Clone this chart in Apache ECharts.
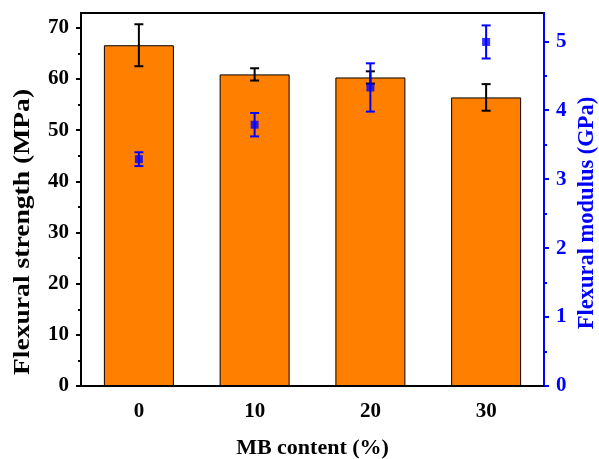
<!DOCTYPE html>
<html>
<head>
<meta charset="utf-8">
<script src="https://cdn.jsdelivr.net/npm/echarts@6/dist/echarts.min.js"></script>
<style>
  html, body { margin: 0; padding: 0; background: #fff; }
  #chart { width: 599px; height: 459px; }
</style>
</head>
<body>
<div id="chart"></div>
<script>
// MB content levels (%)
const categories = ['0', '10', '20', '30'];
// Flexural strength (MPa): mean and standard deviation
const strength = [66.6, 60.9, 60.3, 56.4];
const strengthErr = [4.1, 1.2, 1.2, 2.6];
// Flexural modulus (GPa): mean and standard deviation
const modulus = [3.29, 3.79, 4.33, 4.99];
const modulusErr = [0.10, 0.17, 0.35, 0.24];
// Axis tick values
const strengthTicks = [0, 10, 20, 30, 40, 50, 60, 70];
const modulusTicks = [0, 1, 2, 3, 4, 5];
const strengthMax = 72.9;
const modulusMax = 5.41;

const strengthMinor = strengthTicks.slice(0, -1).map((v, i) => (v + strengthTicks[i + 1]) / 2);
const modulusMinor = modulusTicks.slice(0, -1).map((v, i) => (v + modulusTicks[i + 1]) / 2);

const FONT = '"Liberation Serif", "Times New Roman", serif';
const BLUE = '#0000FF';

function errorBar(color, capHalf, lineW) {
  return function (params, api) {
    const x = api.value(0);
    const lo = api.coord([x, api.value(1)]);
    const hi = api.coord([x, api.value(2)]);
    const cx = lo[0];
    const style = { stroke: color, lineWidth: lineW };
    return {
      type: 'group',
      children: [
        { type: 'line', shape: { x1: cx, y1: hi[1], x2: cx, y2: lo[1] }, style },
        { type: 'line', shape: { x1: cx - capHalf, y1: hi[1], x2: cx + capHalf, y2: hi[1] }, style },
        { type: 'line', shape: { x1: cx - capHalf, y1: lo[1], x2: cx + capHalf, y2: lo[1] }, style }
      ]
    };
  };
}

const chart = echarts.init(document.getElementById('chart'), null, { renderer: 'canvas' });

chart.setOption({
  animation: false,
  backgroundColor: '#fff',
  grid: {
    left: 81, right: 55, top: 13, bottom: 73,
    outerBoundsMode: 'none',
    containLabel: false,
    show: true, borderColor: '#000', borderWidth: 2, backgroundColor: 'transparent'
  },
  xAxis: [
    {
      type: 'category',
      data: categories,
      boundaryGap: true,
      position: 'bottom',
      axisLine: { lineStyle: { color: '#000', width: 2 } },
      axisTick: { alignWithLabel: true, length: 5, lineStyle: { color: '#000', width: 2 } },
      axisLabel: { color: '#000', fontFamily: FONT, fontWeight: 'bold', fontSize: 21, margin: 15 },
      splitLine: { show: false },
      name: 'MB content (%)',
      nameLocation: 'middle',
      nameGap: 51,
      nameTextStyle: { color: '#000', fontFamily: FONT, fontWeight: 'bold', fontSize: 22 }
    },
    {
      type: 'category',
      data: categories,
      boundaryGap: true,
      position: 'bottom',
      axisLine: { show: false },
      axisTick: { length: 3, lineStyle: { color: '#000', width: 2 } },
      axisLabel: { show: false },
      splitLine: { show: false }
    }
  ],
  yAxis: [
    {
      type: 'value',
      position: 'left',
      min: 0, max: strengthMax,
      axisLine: { show: true, lineStyle: { color: '#000', width: 2 } },
      axisTick: { show: true, length: 5, customValues: strengthTicks, lineStyle: { color: '#000', width: 2 } },
      axisLabel: { customValues: strengthTicks, color: '#000', fontFamily: FONT, fontWeight: 'bold', fontSize: 21, margin: 12 },
      splitLine: { show: false }
    },
    {
      type: 'value',
      position: 'right',
      min: 0, max: modulusMax,
      axisLine: { show: true, lineStyle: { color: BLUE, width: 2 } },
      axisTick: { show: true, length: 5, customValues: modulusTicks, lineStyle: { color: BLUE, width: 2 } },
      axisLabel: { customValues: modulusTicks, color: BLUE, fontFamily: FONT, fontWeight: 'bold', fontSize: 21, margin: 12 },
      splitLine: { show: false }
    },
    {
      type: 'value',
      position: 'left',
      min: 0, max: strengthMax,
      axisLine: { show: false },
      axisTick: { show: true, length: 3, customValues: strengthMinor, lineStyle: { color: '#000', width: 2 } },
      axisLabel: { show: false },
      splitLine: { show: false }
    },
    {
      type: 'value',
      position: 'right',
      min: 0, max: modulusMax,
      axisLine: { show: false },
      axisTick: { show: true, length: 3, customValues: modulusMinor, lineStyle: { color: BLUE, width: 2 } },
      axisLabel: { show: false },
      splitLine: { show: false }
    }
  ],
  graphic: [
    {
      type: 'text',
      x: 23, y: 232,
      rotation: Math.PI / 2,
      scaleX: 1.2,
      style: {
        text: 'Flexural strength (MPa)',
        fill: '#000',
        font: 'bold 23px ' + FONT,
        align: 'center',
        verticalAlign: 'middle'
      }
    },
    {
      type: 'text',
      x: 587, y: 213,
      rotation: Math.PI / 2,
      style: {
        text: 'Flexural modulus (GPa)',
        fill: BLUE,
        font: 'bold 22.5px ' + FONT,
        align: 'center',
        verticalAlign: 'middle'
      }
    }
  ],
  series: [
    {
      name: 'Flexural strength',
      type: 'bar',
      xAxisIndex: 0,
      yAxisIndex: 0,
      data: strength,
      barWidth: 70,
      itemStyle: { color: '#FF7F00', borderColor: '#000', borderWidth: 1 },
      z: 2
    },
    {
      name: 'Flexural strength error',
      type: 'custom',
      xAxisIndex: 0,
      yAxisIndex: 0,
      data: strength.map((v, i) => [i, v - strengthErr[i], v + strengthErr[i]]),
      renderItem: errorBar('#000', 4.5, 2),
      z: 3
    },
    {
      name: 'Flexural modulus error',
      type: 'custom',
      xAxisIndex: 0,
      yAxisIndex: 1,
      data: modulus.map((v, i) => [i, v - modulusErr[i], v + modulusErr[i]]),
      renderItem: errorBar(BLUE, 4.5, 2),
      z: 4
    },
    {
      name: 'Flexural modulus',
      type: 'scatter',
      xAxisIndex: 0,
      yAxisIndex: 1,
      data: modulus.map((v, i) => [i, v]),
      symbol: 'rect',
      symbolSize: 8,
      itemStyle: { color: BLUE },
      z: 5
    }
  ]
});
</script>
</body>
</html>
